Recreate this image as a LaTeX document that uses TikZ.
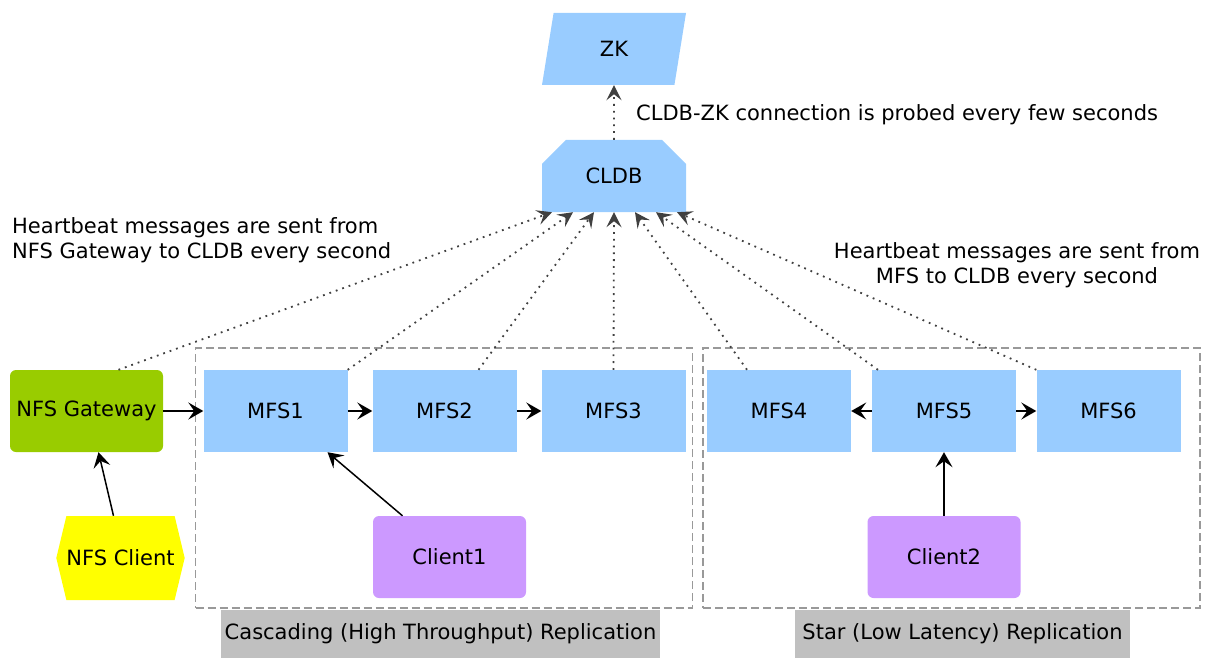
\documentclass[tikz,border=0pt]{standalone}
\usepackage{fontspec}
\setmainfont{DejaVu Sans}
\usetikzlibrary{positioning,arrows.meta,shapes.geometric,shapes.misc,shapes.symbols}
\definecolor{NodeBlue}{HTML}{99CCFF}
\definecolor{GatewayGreen}{HTML}{99CC00}
\definecolor{NfsYellow}{HTML}{FFFF00}
\definecolor{ClientPurple}{HTML}{CC99FF}
\definecolor{CaptionGray}{HTML}{C0C0C0}
\definecolor{FrameGray}{HTML}{999999}

\tikzset{
  mfsbox/.style={fill=NodeBlue, minimum width=144pt, minimum height=82pt, inner sep=0pt},
  clientbox/.style={fill=ClientPurple, rounded corners=6pt, minimum width=153pt, minimum height=82pt, inner sep=0pt},
  groupbox/.style={draw=FrameGray, dash pattern=on 8pt off 4pt, line width=1.2pt, minimum width=497pt, minimum height=260pt, inner sep=0pt},
  captionbox/.style={fill=CaptionGray, minimum height=48pt, inner sep=0pt},
  flow/.style={-{Stealth[length=15pt,width=17pt,inset=6pt]}, line width=1.5pt},
  beat/.style={-{Stealth[length=15pt,width=15pt,inset=6pt]}, line width=1.8pt, dash pattern=on 1.8pt off 5pt, black!75},
  note/.style={inner sep=0pt}
}

\begin{document}
\begin{tikzpicture}[x=1pt,y=-1pt, every node/.style={font=\fontsize{21}{25}\selectfont}]
  \useasboundingbox (0,0) rectangle (1205,658);

  % replication groups
  \node[groupbox] (cascadegrp) at (444,478) {};
  \node[groupbox] (stargrp) at (951.5,478) {};
  \node[captionbox, minimum width=439pt] (cascade) at (440.5,634) {Cascading (High Throughput) Replication};
  \node[captionbox, minimum width=335pt] (star) at (962.5,634) {Star (Low Latency) Replication};

  % top
  \node[trapezium, trapezium left angle=80, trapezium right angle=100, trapezium stretches=true,
        fill=NodeBlue, minimum width=144pt, minimum height=72pt, inner sep=0pt] (zk) at (614,49) {ZK};
  \node[chamfered rectangle, chamfered rectangle corners={north west,north east},
        chamfered rectangle xsep=17pt, chamfered rectangle ysep=16pt,
        fill=NodeBlue, minimum width=144pt, minimum height=72pt, inner sep=0pt] (cldb) at (614,176) {CLDB};

  % nodes
  \node[fill=GatewayGreen, rounded corners=6pt, minimum width=153pt, minimum height=82pt, inner sep=0pt] (nfsgw) at (86.5,411) {NFS Gateway};
  \node[signal, signal to=west and east, signal pointer angle=153, fill=NfsYellow,
        minimum width=125pt, minimum height=84pt, inner sep=0pt] (nfsclient) at (120.5,558) {NFS Client};
  \node[mfsbox] (mfs1) at (275.5,411) {MFS1};
  \node[mfsbox] (mfs2) at (444.5,411) {MFS2};
  \node[mfsbox] (mfs3) at (613.5,411) {MFS3};
  \node[mfsbox] (mfs4) at (779,411) {MFS4};
  \node[mfsbox] (mfs5) at (944,411) {MFS5};
  \node[mfsbox] (mfs6) at (1108.5,411) {MFS6};
  \node[clientbox] (client1) at (449.5,557) {Client1};
  \node[clientbox] (client2) at (944,557) {Client2};

  % notes
  \node[note, anchor=west] (probenote) at (636,115) {CLDB-ZK connection is probed every few seconds};
  \node[note, anchor=west, align=left] (gwnote) at (12,240) {Heartbeat messages are sent from\\NFS Gateway to CLDB every second};
  \node[note, align=center] (mfsnote) at (1017,265) {Heartbeat messages are sent from\\MFS to CLDB every second};

  % data flow
  \draw[flow] (nfsgw) -- (mfs1);
  \draw[flow] (mfs1) -- (mfs2);
  \draw[flow] (mfs2) -- (mfs3);
  \draw[flow] (mfs5) -- (mfs4);
  \draw[flow] (mfs5) -- (mfs6);
  \draw[flow] ([xshift=-7pt]nfsclient.north) -- ([xshift=12pt]nfsgw.south);
  \draw[flow] ([xshift=-47pt]client1.north) -- ([xshift=52pt]mfs1.south);
  \draw[flow] (client2.north) -- (mfs5.south);

  % heartbeats
  \draw[beat] (cldb.north) -- (zk.south);
  \draw[beat] ([xshift=32pt]nfsgw.north) -- ([xshift=-62pt]cldb.south);
  \draw[beat] (mfs1.north east) -- ([xshift=-41pt]cldb.south);
  \draw[beat] ([xshift=34pt]mfs2.north) -- ([xshift=-20pt]cldb.south);
  \draw[beat] (mfs3.north) -- (cldb.south);
  \draw[beat] ([xshift=-32pt]mfs4.north) -- ([xshift=21pt]cldb.south);
  \draw[beat] ([xshift=-66pt]mfs5.north) -- ([xshift=42pt]cldb.south);
  \draw[beat] (mfs6.north west) -- ([xshift=63pt]cldb.south);
\end{tikzpicture}
\end{document}
